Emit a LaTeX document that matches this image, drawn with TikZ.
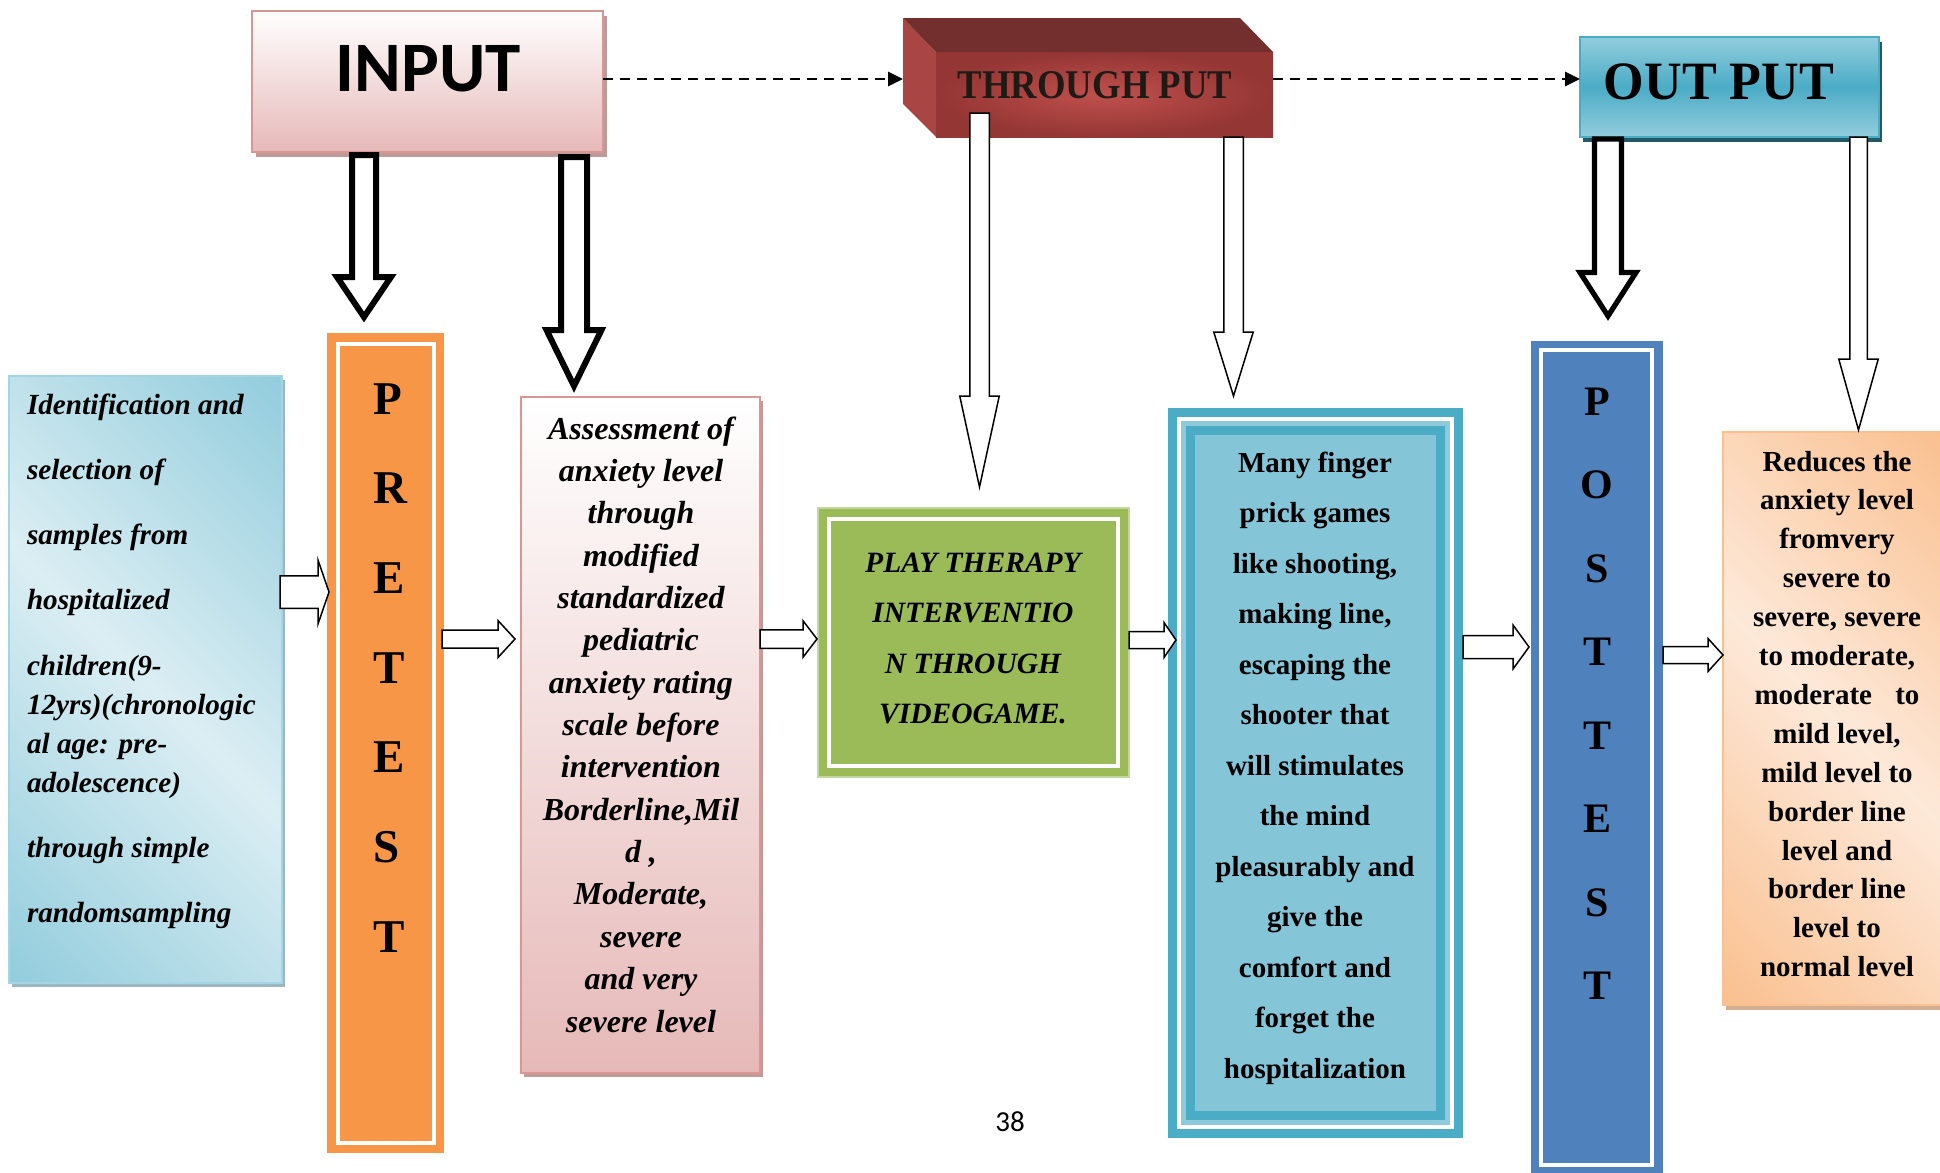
\documentclass[tikz,border=0pt]{standalone}
\usepackage{fontspec}
\usepackage{graphicx}
\setmainfont{Liberation Serif}
\newfontfamily\calfont{Carlito}
\usetikzlibrary{calc,arrows.meta,shadows}

\definecolor{pinkB}{HTML}{E6B9B8}
\definecolor{pinkEdge}{HTML}{D99694}
\definecolor{pinkShadow}{HTML}{BE9A99}
\definecolor{skyL}{HTML}{DBEEF3}
\definecolor{skyD}{HTML}{93CDDD}
\definecolor{skyEdge}{HTML}{A5D5E2}
\definecolor{skyShadow}{HTML}{9DB7C0}
\definecolor{orangeP}{HTML}{F79646}
\definecolor{greenP}{HTML}{9BBB59}
\definecolor{greenEdge}{HTML}{C3D69B}
\definecolor{tealP}{HTML}{4BACC6}
\definecolor{tealBand}{HTML}{8FCADB}
\definecolor{tealIn}{HTML}{84C5D7}
\definecolor{tealShadow}{HTML}{215968}
\definecolor{blueP}{HTML}{4F81BD}
\definecolor{peachL}{HTML}{FDE9D9}
\definecolor{peachD}{HTML}{FAC090}
\definecolor{peachShadow}{HTML}{D2AE92}
\definecolor{redTop}{HTML}{722F2E}
\definecolor{redLeft}{HTML}{A94543}
\definecolor{redEdge}{HTML}{943634}
\definecolor{redMid}{HTML}{C0504D}
\definecolor{darkText}{HTML}{1E1A16}

\pgfdeclarehorizontalshading{skydiag}{100bp}{color(0bp)=(skyD); color(15bp)=(skyD); color(50bp)=(skyL); color(85bp)=(skyD); color(100bp)=(skyD)}
\pgfdeclarehorizontalshading{peachdiag}{100bp}{color(0bp)=(peachD); color(15bp)=(peachD); color(50bp)=(peachL); color(85bp)=(peachD); color(100bp)=(peachD)}

\newcommand\stacklines[2]{\begin{tabular}[t]{@{}#1@{}}#2\end{tabular}}
% block arrow pointing down: style, start, tip, shaft half, head half, head length
\newcommand\barrowdown[6]{%
  \draw[#1] ($(#2)+(-#4,0)$) -- ($(#3)+(-#4,-#6)$) -- ($(#3)+(-#5,-#6)$) -- (#3)
    -- ($(#3)+(#5,-#6)$) -- ($(#3)+(#4,-#6)$) -- ($(#2)+(#4,0)$) -- cycle;}
% block arrow pointing right
\newcommand\barrowright[6]{%
  \draw[#1] ($(#2)+(0,-#4)$) -- ($(#3)+(-#6,-#4)$) -- ($(#3)+(-#6,-#5)$) -- (#3)
    -- ($(#3)+(-#6,#5)$) -- ($(#3)+(-#6,#4)$) -- ($(#2)+(0,#4)$) -- cycle;}

\tikzset{
  box/.style={rectangle, inner sep=0pt, outer sep=0pt},
  txt/.style={inner sep=0pt, outer sep=0pt, anchor=base},
  thickarrow/.style={draw=black, fill=white, line width=3pt, line join=miter},
  thickarrowb/.style={draw=black, fill=white, line width=2.6pt, line join=miter},
  thinarrow/.style={draw=black, fill=white, line width=0.75pt, line join=miter},
  flowdash/.style={draw=black, line width=1.3pt, dash pattern=on 5pt off 3.5pt,
    -{Triangle[length=7.5pt,width=7pt]}},
  whiteline/.style={draw=white, line width=2pt},
}

\begin{document}
\begin{tikzpicture}[x=0.5pt,y=-0.5pt]
\fill[white] (0,0) rectangle (1940,1173);
\useasboundingbox (0,0) rectangle (1940,1173);

% ---------- top boxes ----------
\node[box, minimum width=175.5pt, minimum height=70.5pt, top color=white, bottom color=pinkB,
  draw=pinkEdge, line width=1pt,
  drop shadow={shadow xshift=2pt, shadow yshift=-2.5pt, fill=pinkShadow, opacity=1}] (inp) at (427.5,81.5) {};

\node[box, minimum width=168.5pt, minimum height=42.5pt, inner color=redMid, outer color=redEdge] (thr) at (1104.5,94.5) {};
\fill[redLeft] ($(thr.north west)+(-33,-34)$) -- (thr.north west) -- (thr.south west) -- ($(thr.south west)+(-33,-33)$) -- cycle;
\fill[redTop] ($(thr.north west)+(-33,-34)$) -- ($(thr.north east)+(-33,-34)$) -- (thr.north east) -- (thr.north west) -- cycle;

\node[box, minimum width=149.5pt, minimum height=50pt, top color=skyD, bottom color=skyD, middle color=tealP,
  draw=tealP, line width=0.75pt,
  drop shadow={shadow xshift=1.5pt, shadow yshift=-2.5pt, fill=tealShadow, opacity=1}] (out) at (1729.5,87) {};

% ---------- lower boxes ----------
\node[box, minimum width=136.5pt, minimum height=303.5pt, shade, shading=skydiag, shading angle=45,
  draw=skyEdge, line width=0.75pt,
  drop shadow={shadow xshift=1.5pt, shadow yshift=-2pt, fill=skyShadow, opacity=1}] (ident) at (145.5,679.5) {};

\node[box, minimum width=58.5pt, minimum height=410pt, fill=orangeP] (pre) at (385.5,743) {};
\draw[whiteline] ($(pre.north west)+(10.5,10.5)$) rectangle ($(pre.south east)+(-10.5,-10.5)$);

\node[box, minimum width=119.5pt, minimum height=338pt, top color=white, bottom color=pinkB,
  draw=pinkEdge, line width=1pt,
  drop shadow={shadow xshift=1.5pt, shadow yshift=-2pt, fill=pinkShadow, opacity=1}] (assess) at (640.5,735) {};

\node[box, minimum width=155.5pt, minimum height=134.5pt, fill=greenP, draw=greenEdge, line width=0.75pt] (green) at (973.5,642.5) {};
\draw[whiteline, line width=2.2pt] ($(green.north west)+(11,11)$) rectangle ($(green.south east)+(-11,-11)$);

\node[box, minimum width=147.5pt, minimum height=365pt, fill=tealP] (game) at (1315.5,773) {};
\fill[tealBand] ($(game.north west)+(13,13)$) rectangle ($(game.south east)+(-13,-13)$);
\fill[tealP] ($(game.north west)+(18,18)$) rectangle ($(game.south east)+(-18,-18)$);
\fill[tealIn] ($(game.north west)+(27,27)$) rectangle ($(game.south east)+(-27,-27)$);
\draw[whiteline] ($(game.north west)+(11,11)$) rectangle ($(game.south east)+(-11,-11)$);

\node[box, minimum width=66pt, minimum height=417pt, fill=blueP] (post) at (1597,758) {};
\draw[whiteline] ($(post.north west)+(10,9)$) rectangle ($(post.south east)+(-11,-10)$);

\node[box, minimum width=111pt, minimum height=286.5pt, shade, shading=peachdiag, shading angle=45,
  draw=peachD, line width=1pt,
  drop shadow={shadow xshift=1.5pt, shadow yshift=-2.5pt, fill=peachShadow, opacity=1}] (reduce) at (1834,718.5) {};

% ---------- texts ----------
\node[txt, font=\calfont\bfseries\fontsize{35.5pt}{40pt}\selectfont] (tInp) at (428,91) {INPUT};
\node[txt, text=darkText, font=\bfseries\fontsize{20.4pt}{24pt}\selectfont] (tThr) at (1095,98) {\scalebox{0.9}[1]{THROUGH PUT}};
\node[txt, font=\bfseries\fontsize{27pt}{32pt}\selectfont] (tOut) at (1719,99) {\scalebox{0.965}[1]{OUT PUT}};

\node[txt, anchor=base west, font=\bfseries\itshape\fontsize{14.6pt}{19.5pt}\selectfont] (tIdent) at (27,414)
  {\stacklines{l}{Identification and\\[13.15pt] selection of\\[13.15pt] samples from\\[13.15pt] hospitalized\\[13.15pt]
   children(9-\\ 12yrs)(chronologic\\ al age: pre-\\ adolescence)\\[13.15pt] through simple\\[13.15pt] randomsampling}};

\node[txt, anchor=base west, font=\bfseries\fontsize{23.5pt}{44.85pt}\selectfont] (tPre) at (373,414)
  {\stacklines{l}{P\\R\\E\\T\\E\\S\\T}};

\node[txt, font=\bfseries\itshape\fontsize{16pt}{21.18pt}\selectfont] (tAssess) at (641,439)
  {\stacklines{c}{Assessment of\\ anxiety level\\ through\\ modified\\ standardized\\ pediatric\\ anxiety rating\\
   scale before\\ intervention\\ Borderline,Mil\\ d ,\\ Moderate,\\ severe\\ and very\\ severe level}};

\node[txt, font=\bfseries\itshape\fontsize{14.75pt}{25.25pt}\selectfont] (tGreen) at (973,572)
  {\stacklines{c}{PLAY THERAPY\\ INTERVENTIO\\ N THROUGH\\ VIDEOGAME.}};

\node[txt, font=\bfseries\fontsize{14.5pt}{25.25pt}\selectfont] (tGame) at (1315,472)
  {\stacklines{c}{Many finger\\ prick games\\ like shooting,\\ making line,\\ escaping the\\ shooter that\\
   will stimulates\\ the mind\\ pleasurably and\\ give the\\ comfort and\\ forget the\\ hospitalization}};

\node[txt, font=\bfseries\fontsize{21pt}{41.75pt}\selectfont] (tPost) at (1597,415)
  {\stacklines{c}{P\\O\\S\\T\\T\\E\\S\\T}};

\node[txt, font=\bfseries\fontsize{14.5pt}{19.45pt}\selectfont] (tReduce) at (1837,471)
  {\stacklines{c}{Reduces the\\ anxiety level\\ fromvery\\ severe to\\ severe, severe\\ to moderate,\\
   moderate\hspace{8pt} to\\ mild level,\\ mild level to\\ border line\\ level and\\ border line\\ level to\\ normal level}};

\node[txt, font=\calfont\fontsize{14.5pt}{17pt}\selectfont] (tPage) at (1010,1131) {38};

% ---------- dashed flow ----------
\draw[flowdash] ($(inp.east)+(0,-2.5)$) -- ($(thr.west)+(-33,-15.5)$);
\draw[flowdash] ($(thr.east)+(0,-15.5)$) -- ($(out.west)+(0,-8)$);

% ---------- block arrows down ----------
\coordinate (a1t) at (364,317);
\coordinate (a1s) at ($(a1t |- inp.south)+(0,3)$);
\coordinate (a2t) at (574,386);
\coordinate (a2s) at ($(a2t |- inp.south)+(0,5)$);
\coordinate (At) at (979.5,487);
\coordinate (As) at ($(At |- thr.south)+(0,-24)$);
\coordinate (Bt) at (1233.5,396);
\coordinate (Bs) at (Bt |- thr.south);
\coordinate (Ct) at (1608,316);
\coordinate (Cs) at ($(Ct |- out.south)+(0,2)$);
\coordinate (Dt) at (1858.5,430);
\coordinate (Ds) at (Dt |- out.south);

\barrowdown{thickarrow}{a1s}{a1t}{12}{27}{40}
\barrowdown{thickarrow}{a2s}{a2t}{13}{27.5}{56}
\barrowdown{thinarrow}{As}{At}{9.75}{19.75}{91}
\barrowdown{thinarrow}{Bs}{Bt}{9.75}{19.75}{64}
\barrowdown{thickarrowb}{Cs}{Ct}{13.5}{28}{43.5}
\barrowdown{thinarrow}{Ds}{Dt}{8.75}{19.75}{71}

% ---------- block arrows right ----------
\coordinate (h1t) at (329,592);
\coordinate (h1s) at ($(h1t -| ident.east)+(-2,0)$);
\coordinate (h2t) at (515,639);
\coordinate (h2s) at ($(h2t -| pre.east)+(-2,0)$);
\coordinate (h3t) at (817,639);
\coordinate (h3s) at (h3t -| assess.east);
\coordinate (h4t) at (1176,640);
\coordinate (h4s) at (h4t -| green.east);
\coordinate (h5t) at (1529,647);
\coordinate (h5s) at (h5t -| game.east);
\coordinate (h6t) at (1723,655);
\coordinate (h6s) at (h6t -| post.east);

\barrowright{thinarrow}{h1s}{h1t}{16.25}{32}{11}
\barrowright{thinarrow}{h2s}{h2t}{9}{18.5}{17}
\barrowright{thinarrow}{h3s}{h3t}{9.25}{18.25}{14}
\barrowright{thinarrow}{h4s}{h4t}{8.5}{17.5}{12}
\barrowright{thinarrow}{h5s}{h5t}{11.5}{22}{16}
\barrowright{thinarrow}{h6s}{h6t}{8.5}{16.5}{15}
\end{tikzpicture}
\end{document}
